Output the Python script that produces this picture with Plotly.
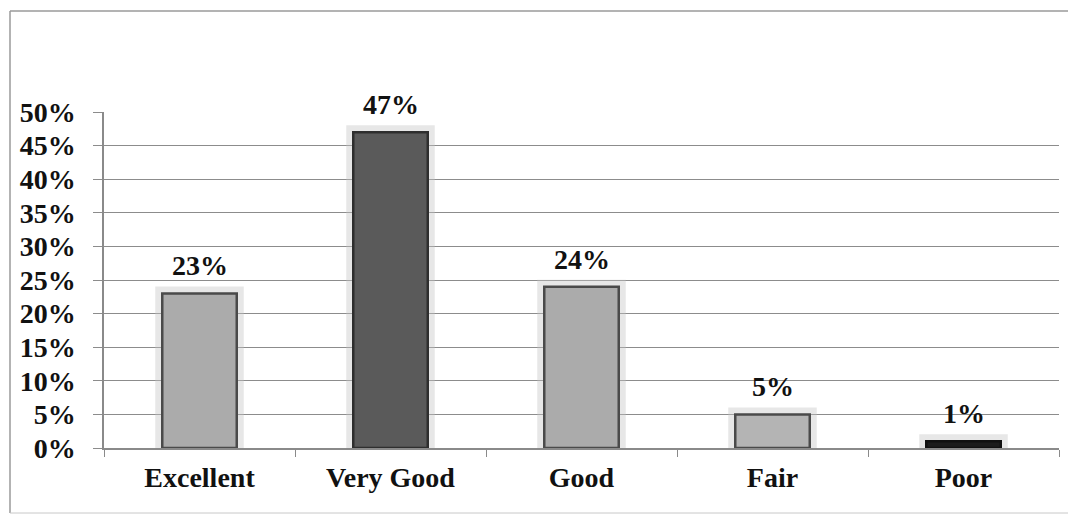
import plotly.graph_objects as go

categories = ["Excellent", "Very Good", "Good", "Fair", "Poor"]
values = [23, 47, 24, 5, 1]
fill_colors = ["#ababab", "#5a5a5a", "#ababab", "#b4b4b4", "#1c1c1c"]
line_colors = ["#4a4a4a", "#2e2e2e", "#4a4a4a", "#4a4a4a", "#111111"]
y_ticks = [0, 5, 10, 15, 20, 25, 30, 35, 40, 45, 50]
y_tick_labels = [f"{t}%" for t in y_ticks]

FONT = dict(family="Liberation Serif", size=28, color="#111111", weight=700)

fig = go.Figure()

# soft glow behind bars
fig.add_trace(go.Bar(
    x=categories, y=values, width=0.39,
    marker=dict(color="rgba(200,200,200,0.35)", line=dict(color="rgba(195,195,195,0.4)", width=14)),
    hoverinfo="skip", showlegend=False,
))
fig.add_trace(go.Bar(
    x=categories, y=values, width=0.39,
    marker=dict(color=fill_colors, line=dict(color=line_colors, width=2.5)),
    showlegend=False,
))

for c, v in zip(categories, values):
    fig.add_annotation(x=c, y=v, text=f"{v}%", showarrow=False, yanchor="bottom",
                       yshift=10, font=FONT)

# outer chart border (screen pixels converted to plot-area paper fractions)
PX0, PX1, PY0, PY1 = 104, 1059, 448, 112
def px_x(p):
    return (p - PX0) / (PX1 - PX0)
def px_y(p):
    return (PY0 - p) / (PY0 - PY1)

BORDER = dict(color="#9a9a9a", width=1.5)
fig.add_shape(type="line", xref="paper", yref="paper", layer="below",
              x0=px_x(10), x1=px_x(1200), y0=px_y(11), y1=px_y(11), line=BORDER)
fig.add_shape(type="line", xref="paper", yref="paper", layer="below",
              x0=px_x(10), x1=px_x(10), y0=px_y(11), y1=px_y(513), line=BORDER)
fig.add_shape(type="line", xref="paper", yref="paper", layer="below",
              x0=px_x(10), x1=px_x(1200), y0=px_y(513), y1=px_y(513),
              line=dict(color="#c8c8c8", width=1))

fig.update_layout(
    width=1068, height=511,
    margin=dict(l=96, r=17, t=104, b=71),
    paper_bgcolor="white", plot_bgcolor="white",
    barmode="overlay",
    font=FONT,
    xaxis=dict(
        showgrid=False, showline=True, linecolor="#8a8a8a", linewidth=1.5,
        ticks="outside", tickson="boundaries", ticklen=7, tickcolor="#8a8a8a",
        tickfont=FONT, range=[-0.5, 4.5], ticklabelstandoff=4, automargin=False,
    ),
    yaxis=dict(
        range=[0, 50], tickvals=y_ticks, ticktext=y_tick_labels,
        showgrid=True, gridcolor="#8c8c8c", gridwidth=1.2,
        showline=True, linecolor="#8a8a8a", linewidth=1.5,
        ticks="outside", ticklen=9, tickcolor="#8c8c8c",
        tickfont=FONT, zeroline=False, ticklabelstandoff=12, automargin=False,
    ),
)

fig.write_html("out.html")
